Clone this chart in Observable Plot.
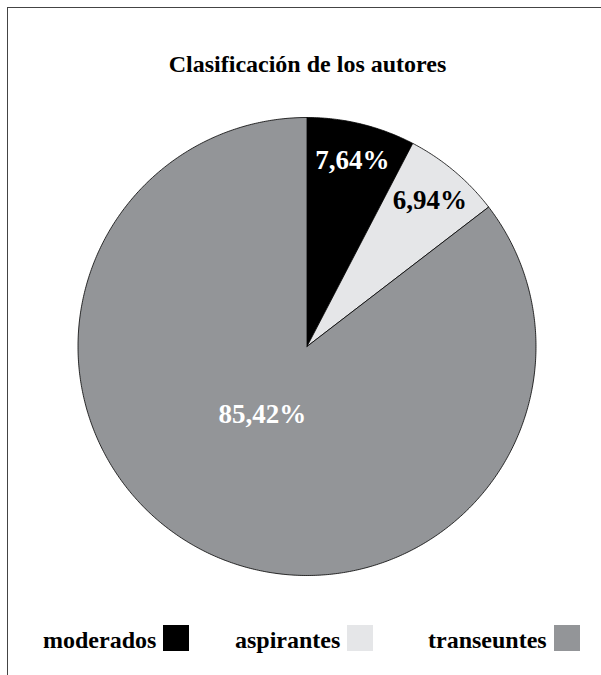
<!DOCTYPE html>
<html>
<head>
<meta charset="utf-8">
<script src="https://cdn.jsdelivr.net/npm/d3@7"></script>
<script src="https://cdn.jsdelivr.net/npm/@observablehq/plot@0.6"></script>
<style>
  html, body { margin: 0; padding: 0; background: #fff; }
  #page { position: relative; width: 601px; height: 675px; overflow: hidden; background: #fff;
          font-family: "Liberation Serif", "Times New Roman", Times, serif; font-weight: bold; color: #000; }
  #frame { position: absolute; left: 7px; top: 7px; width: 620px; height: 700px;
           border-left: 1px solid #444; border-top: 1px solid #444; }
  #title { position: absolute; left: 0; top: 52px; width: 615px; text-align: center;
           font-size: 24px; line-height: 24px; }
  #chart { position: absolute; left: 0; top: 106px; }
  .lg-text { position: absolute; top: 628px; font-size: 24px; line-height: 24px; white-space: nowrap; }
  .lg-box { position: absolute; top: 625px; width: 26px; height: 26px; }
</style>
</head>
<body>
<div id="page">
  <div id="frame"></div>
  <div id="title">Clasificación de los autores</div>
  <div id="chart"></div>
  <div id="legend"></div>
</div>
<script>
// ---- data ----
const categories = ["moderados", "aspirantes", "transeuntes"];
const values = [7.64, 6.94, 85.42];
const labels = ["7,64%", "6,94%", "85,42%"];
const colors = ["#000000", "#e5e6e8", "#939598"];
const labelOnDark = [true, false, true];

// ---- geometry built from data ----
const total = d3.sum(values);
let acc = 0;
const slices = categories.map((c, i) => {
  const a0 = acc / total * 2 * Math.PI;
  acc += values[i];
  const a1 = acc / total * 2 * Math.PI;
  return {category: c, value: values[i], label: labels[i], dark: labelOnDark[i], a0, a1};
});

const points = [];
for (const s of slices) {
  points.push({category: s.category, x: 0, y: 0});
  const n = Math.max(2, Math.ceil((s.a1 - s.a0) / (Math.PI / 360)));
  for (let k = 0; k <= n; k++) {
    const a = s.a0 + (s.a1 - s.a0) * k / n;
    points.push({category: s.category, x: Math.sin(a), y: Math.cos(a)});
  }
  points.push({category: s.category, x: 0, y: 0});
}

const labelPts = slices.map(s => {
  const big = s.value / total > 0.5;
  const mid = (s.a0 + s.a1) / 2 + (big ? 7 * Math.PI / 180 : 0);
  const r = big ? 0.355 : 0.835;
  return {...s, lx: r * Math.sin(mid), ly: r * Math.cos(mid)};
});

const W = 601, H = 480;
const chart = Plot.plot({
  width: W,
  height: H,
  marginLeft: 77.5,
  marginRight: 65.5,
  marginTop: 11,
  marginBottom: 11,
  x: {domain: [-1, 1], axis: null},
  y: {domain: [-1, 1], axis: null},
  color: {domain: categories, range: colors},
  style: {background: "transparent", overflow: "visible"},
  marks: [
    Plot.line(points, {x: "x", y: "y", z: "category", fill: "category",
      stroke: "#000", strokeWidth: 0.8, strokeLinejoin: "round", curve: "linear"}),
    Plot.text(labelPts.filter(d => d.dark), {x: "lx", y: "ly", text: "label", fill: "#fff",
      fontSize: 27, fontWeight: "bold", fontFamily: "Liberation Serif, Times New Roman, serif"}),
    Plot.text(labelPts.filter(d => !d.dark), {x: "lx", y: "ly", text: "label", fill: "#000",
      fontSize: 27, fontWeight: "bold", fontFamily: "Liberation Serif, Times New Roman, serif"})
  ]
});
document.getElementById("chart").appendChild(chart);

// ---- legend ----
const legendTextLeft = [43, 235, 428];
const legend = document.getElementById("legend");
categories.forEach((c, i) => {
  const t = document.createElement("span");
  t.className = "lg-text";
  t.style.left = legendTextLeft[i] + "px";
  t.textContent = c;
  legend.appendChild(t);
  const w = t.getBoundingClientRect().width;
  const b = document.createElement("span");
  b.className = "lg-box";
  b.style.left = (legendTextLeft[i] + w + 7) + "px";
  b.style.background = colors[i];
  legend.appendChild(b);
});
</script>
</body>
</html>
